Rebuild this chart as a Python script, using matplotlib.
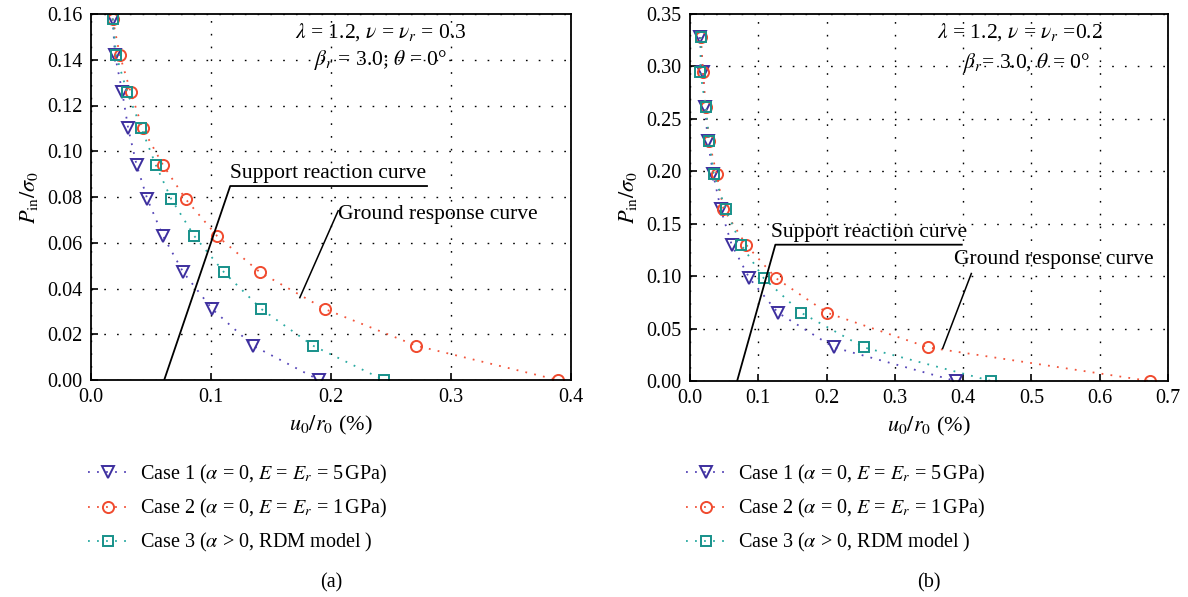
import matplotlib
matplotlib.use('Agg')
import matplotlib.pyplot as plt

plt.rcParams['font.family'] = ['Liberation Serif', 'DejaVu Serif']
plt.rcParams['mathtext.fontset'] = 'stix'

# ---------------- data: panel (a) ----------------
p_a = [0.158, 0.142, 0.126, 0.110, 0.094, 0.079, 0.063, 0.047, 0.031, 0.015, 0.0]
case1_a = [0.018, 0.020, 0.026, 0.031, 0.038, 0.047, 0.060, 0.077, 0.101, 0.135, 0.190]
case2_a = [0.018, 0.024, 0.033, 0.043, 0.060, 0.079, 0.105, 0.141, 0.195, 0.271, 0.389]
case3_a = [0.018, 0.021, 0.030, 0.042, 0.054, 0.067, 0.086, 0.111, 0.142, 0.185, 0.244]
src_x_a = [0.061, 0.116, 0.280]
src_y_a = [0.0, 0.0848, 0.0848]
grc_x_a = [0.174, 0.206]
grc_y_a = [0.036, 0.074]
xticks_a = [0.0, 0.1, 0.2, 0.3, 0.4]
yticks_a = [0.00, 0.02, 0.04, 0.06, 0.08, 0.10, 0.12, 0.14, 0.16]

# ---------------- data: panel (b) ----------------
p_b = [0.328, 0.295, 0.261, 0.229, 0.197, 0.164, 0.130, 0.098, 0.065, 0.032, 0.0]
case1_b = [0.014, 0.019, 0.022, 0.026, 0.034, 0.045, 0.061, 0.087, 0.129, 0.211, 0.389]
case2_b = [0.016, 0.019, 0.023, 0.028, 0.039, 0.049, 0.082, 0.126, 0.201, 0.349, 0.673]
case3_b = [0.016, 0.015, 0.023, 0.028, 0.035, 0.052, 0.075, 0.108, 0.163, 0.255, 0.441]
src_x_b = [0.069, 0.125, 0.398]
src_y_b = [0.0, 0.130, 0.130]
grc_x_b = [0.370, 0.412]
grc_y_b = [0.031, 0.1025]
xticks_b = [0.0, 0.1, 0.2, 0.3, 0.4, 0.5, 0.6, 0.7]
yticks_b = [0.00, 0.05, 0.10, 0.15, 0.20, 0.25, 0.30, 0.35]

labels = [r'Case 1 ($\alpha$ = 0, $E$ = $E_r$ = 5$\,$GPa)',
          r'Case 2 ($\alpha$ = 0, $E$ = $E_r$ = 1$\,$GPa)',
          r'Case 3 ($\alpha$ > 0, RDM model )']

C1 = '#3d2f9e'
C2 = '#f04a2e'
C3 = '#17918a'
L1 = '#5646b8'
L2 = '#f2543a'
L3 = '#2aaaa2'

FS_TICK = 14.5
FS_LAB = 16
FS_ANN = 15.5
FS_LEG = 14.5

fig = plt.figure(figsize=(11.88, 5.97), dpi=100)
W, H = 1188, 597
axa = fig.add_axes([91 / W, 1 - 380 / H, 480 / W, 366 / H])
axb = fig.add_axes([690 / W, 1 - 381 / H, 478 / W, 367 / H])


def style(ax, xt, yt, xlim, ylim, yfmt):
    ax.set_xlim(*xlim)
    ax.set_ylim(*ylim)
    ax.set_xticks(xt)
    ax.set_yticks(yt)
    ax.set_xticklabels(['%.1f' % v for v in xt], fontsize=FS_TICK)
    ax.set_yticklabels([yfmt % v for v in yt], fontsize=FS_TICK)
    ax.tick_params(direction='in', length=5, width=1.2, top=False, right=False, pad=6)
    for s in ax.spines.values():
        s.set_linewidth(1.3)
    ax.grid(True, linestyle=(0, (1.2, 8)), color='black', linewidth=1.0)
    ax.set_axisbelow(True)
    ax.set_xlabel(r'$u_0/r_0$ (%)', fontsize=FS_LAB, labelpad=5)
    ax.set_ylabel(r'$P_{\rm in}/\sigma_0$', fontsize=FS_LAB, labelpad=5)


def plot_cases(ax, p, c1, c2, c3):
    h1, = ax.plot(c1, p, linestyle=(0, (1, 4)), color=L1, lw=1.3, marker='v', ms=9,
                  mfc='none', mec=C1, mew=1.4, label=labels[0])
    h2, = ax.plot(c2, p, linestyle=(0, (1, 4)), color=L2, lw=1.3, marker='o', ms=8,
                  mfc='none', mec=C2, mew=1.4, label=labels[1])
    h3, = ax.plot(c3, p, linestyle=(0, (1, 4)), color=L3, lw=1.3, marker='s', ms=7,
                  mfc='none', mec=C3, mew=1.4, label=labels[2])
    return [h1, h2, h3]


# panel (a)
style(axa, xticks_a, yticks_a, (0, 0.4), (0, 0.16), '%.2f')
ha = plot_cases(axa, p_a, case1_a, case2_a, case3_a)
axa.plot(src_x_a, src_y_a, color='black', lw=1.3)
axa.plot(grc_x_a, grc_y_a, color='black', lw=1.1)
axa.text(src_x_a[1], src_y_a[1] + 0.0012, 'Support reaction curve', fontsize=FS_ANN,
         ha='left', va='bottom')
axa.text(grc_x_a[1], grc_y_a[1] - 0.0015, 'Ground response curve', fontsize=FS_ANN,
         ha='left', va='center')
axa.text(0.604, 0.951, r'$\lambda$ = 1.2, $\nu$ = $\nu_r$ = 0.3', transform=axa.transAxes,
         fontsize=FS_ANN, ha='center', va='center')
axa.text(0.604, 0.875, r'$\beta_r$ = 3.0; $\theta$ = 0°', transform=axa.transAxes,
         fontsize=FS_ANN, ha='center', va='center')

# panel (b)
style(axb, xticks_b, yticks_b, (0, 0.7), (0, 0.35), '%.2f')
hb = plot_cases(axb, p_b, case1_b, case2_b, case3_b)
axb.plot(src_x_b, src_y_b, color='black', lw=1.3)
axb.plot(grc_x_b, grc_y_b, color='black', lw=1.1)
axb.text(src_x_b[1] - 0.006, src_y_b[1] + 0.0025, 'Support reaction curve', fontsize=FS_ANN,
         ha='left', va='bottom')
axb.text(grc_x_b[1] - 0.026, grc_y_b[1] + 0.013, 'Ground response curve', fontsize=FS_ANN,
         ha='left', va='center')
axb.text(0.690, 0.951, r'$\lambda$ = 1.2, $\nu$ = $\nu_r$ =0.2', transform=axb.transAxes,
         fontsize=FS_ANN, ha='center', va='center')
axb.text(0.705, 0.866, r'$\beta_r$= 3.0, $\theta$ = 0°', transform=axb.transAxes,
         fontsize=FS_ANN, ha='center', va='center')

# legends
for handles, x0 in ((ha, 88 / W), (hb, 686 / W)):
    fig.legend(handles=handles, loc='upper left', bbox_to_anchor=(x0, 1 - 463 / H),
               bbox_transform=fig.transFigure, frameon=False, fontsize=FS_LEG,
               handlelength=2.0, handletextpad=0.6, labelspacing=0.55, borderpad=0,
               borderaxespad=0)

fig.text(331 / W, 1 - 583 / H, '(a)', fontsize=FS_LEG, ha='center', va='center')
fig.text(929 / W, 1 - 583 / H, '(b)', fontsize=FS_LEG, ha='center', va='center')

fig.savefig('out.png', dpi=100)
